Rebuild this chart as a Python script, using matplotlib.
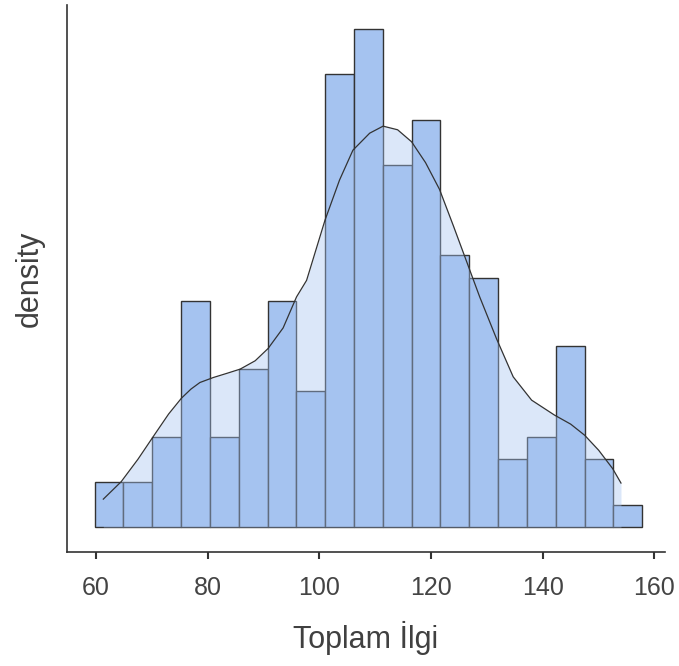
import numpy as np
import matplotlib.pyplot as plt

plt.rcParams['font.family'] = ['Liberation Sans', 'DejaVu Sans']

# histogram: 19 bins starting at ~59.75, width ~5.16
bin_start = 59.75
bin_width = 5.16
counts = [2, 2, 4, 10, 4, 7, 10, 6, 20, 22, 16, 18, 12, 11, 3, 4, 8, 3, 1]

# density curve (same units as counts)
kde_x = [61.3, 62.8, 64.5, 67.5, 70.4, 73.0, 75.3, 77.0, 78.6, 81.0, 83.5, 85.8, 88.5,
         90.8, 93.5, 95.9, 97.7, 101.0, 103.6, 106.0, 109.0, 111.4, 114.0, 116.5,
         119.0, 121.5, 124.0, 126.6, 128.7, 131.7, 134.7, 138.0, 142.1, 145.0,
         147.5, 150.0, 152.5, 154.0]
kde_y = [1.24, 1.60, 2.01, 3.00, 4.06, 5.00, 5.70, 6.10, 6.39, 6.61, 6.80, 6.98, 7.35,
         7.89, 8.80, 10.17, 10.90, 13.56, 15.33, 16.65, 17.40, 17.71, 17.55, 17.02,
         16.10, 14.92, 13.30, 11.57, 10.17, 8.33, 6.64, 5.61, 4.95, 4.55,
         4.06, 3.40, 2.59, 1.95]

bar_color = '#a5c3f0'
edges = bin_start + bin_width * np.arange(len(counts))

fig = plt.figure(figsize=(6.79, 6.66), dpi=100)
ax = fig.add_axes([0.0987, 0.171, 0.880, 0.8215])

ax.bar(edges, counts, width=bin_width, align='edge', color=bar_color,
       edgecolor='#333333', linewidth=1.0, zorder=2)
ax.fill_between(kde_x, 0, kde_y, color=bar_color, alpha=0.4, linewidth=0, zorder=3)
ax.plot(kde_x, kde_y, color='#333333', linewidth=0.9, zorder=4)

ax.set_xlim(54.8, 161.8)
ax.set_ylim(-1.10, 23.06)
ax.set_xticks([60, 80, 100, 120, 140, 160])
ax.set_yticks([])
ax.tick_params(axis='x', length=5, width=1.5, color='#333333', labelsize=18,
               labelcolor='#444444', pad=12)
for s in ['top', 'right']:
    ax.spines[s].set_visible(False)
for s in ['left', 'bottom']:
    ax.spines[s].set_color('#333333')
    ax.spines[s].set_linewidth(1.2)

ax.set_xlabel('Toplam İlgi', fontsize=22, color='#404040', labelpad=15)
ax.set_ylabel('density', fontsize=22, color='#404040', labelpad=16)

fig.savefig('out.png', dpi=100)
